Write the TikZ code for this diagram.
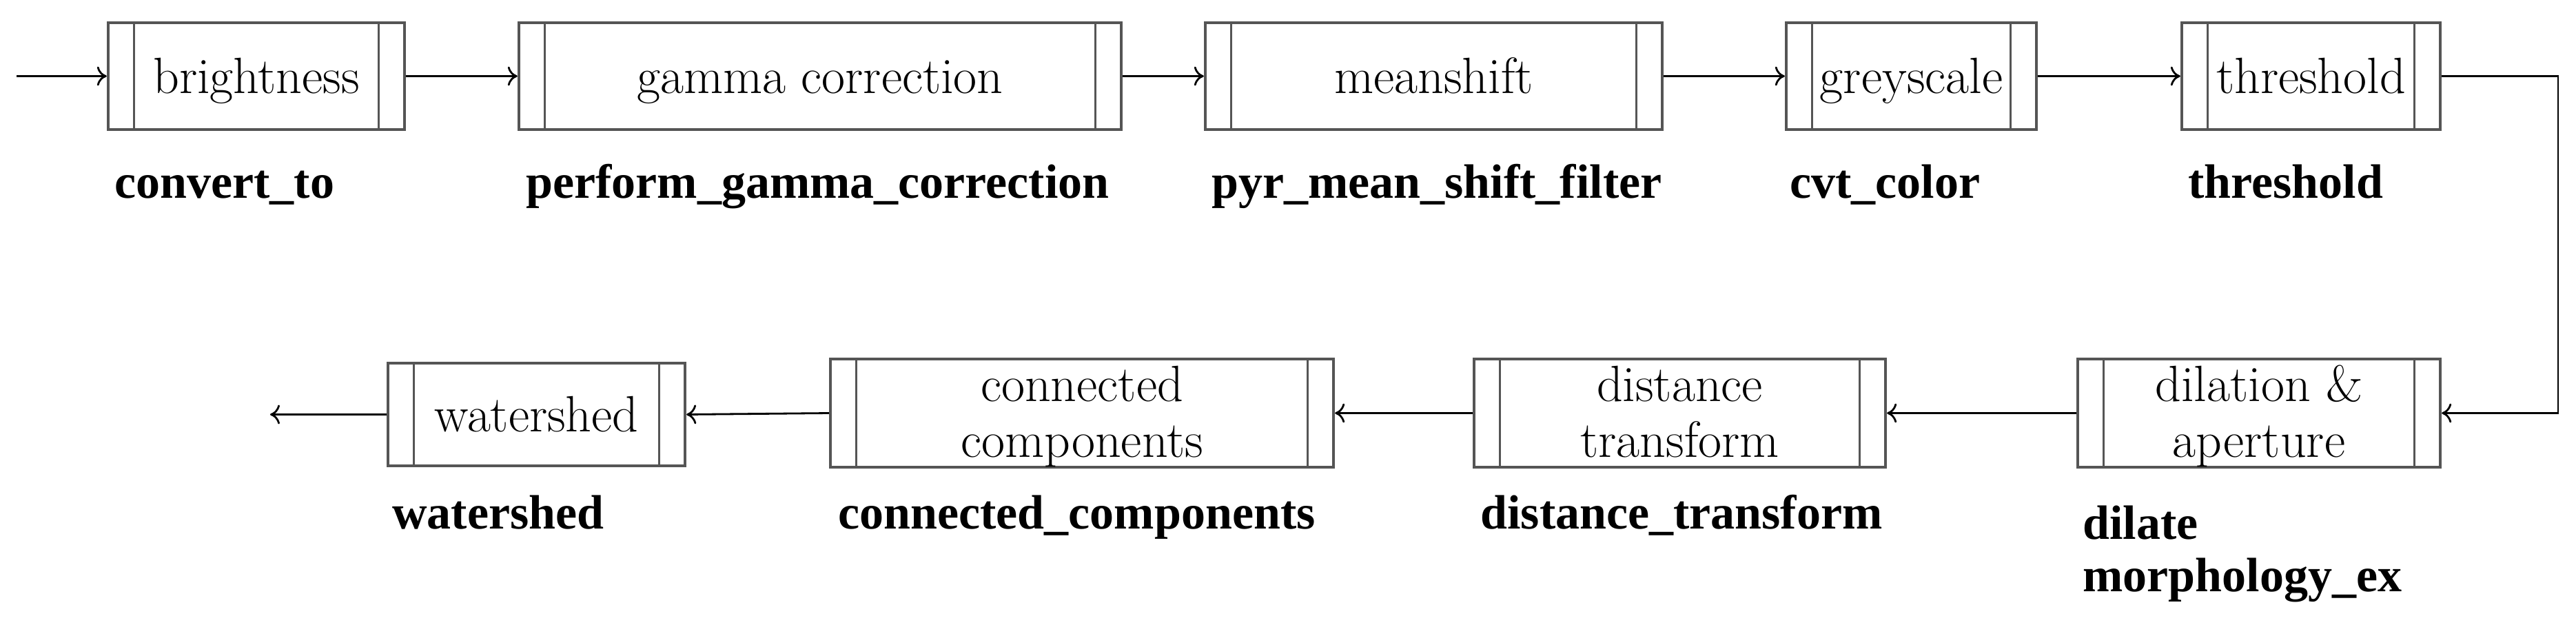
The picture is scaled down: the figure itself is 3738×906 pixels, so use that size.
\documentclass[tikz,border=0pt]{standalone}
\usepackage{fontspec}
\usetikzlibrary{arrows.meta}
\newfontfamily\labfont{Liberation Serif}[BoldFont={Liberation Serif Bold}]
\definecolor{boxgray}{HTML}{555555}
\tikzset{
  stage/.style={draw=boxgray, line width=2.2pt, fill=white, inner sep=0pt,
    minimum height=77.5pt, align=center,
    font=\fontsize{37}{40.5}\selectfont,
    text height=24.5pt, text depth=0pt},
  twoline/.style={text height=63.5pt, text depth=0pt, minimum height=78.5pt},
  innerline/.style={draw=boxgray, line width=1.5pt},
  flow/.style={draw=black, line width=1.4pt, -{To[length=7pt,width=14pt]}},
  fname/.style={anchor=base west, inner sep=0pt, align=left,
    font=\labfont\bfseries\fontsize{35}{38}\selectfont},
}
\begin{document}
\begin{tikzpicture}[x=0.5pt,y=-0.5pt]
\useasboundingbox (0,0) rectangle (3738,906);
% top row
\node[stage, minimum width=215pt] (b1) at (372,110.5) {brightness};
\node[stage, minimum width=437pt] (b2) at (1190,110.5) {gamma correction};
\node[stage, minimum width=331.5pt] (b3) at (2080.5,110.5) {meanshift};
\node[stage, minimum width=181.5pt] (b4) at (2773.5,110.5) {greyscale};
\node[stage, minimum width=187.5pt] (b5) at (3353.5,110.5) {threshold};
% bottom row
\node[stage, twoline, minimum width=263pt] (b6) at (3278,599.5) {dilation \&\\aperture};
\node[stage, twoline, minimum width=298.5pt] (b7) at (2437.5,599.5) {distance\\transform};
\node[stage, twoline, minimum width=365pt] (b8) at (1570,599.5) {connected\\components};
\node[stage, minimum width=215.5pt, minimum height=74.5pt] (b9) at (778.5,601.5) {watershed};
% inner vertical lines
\foreach \n in {b1,b2,b3,b4,b5,b6,b7,b8,b9}{
  \draw[innerline] ([xshift=20pt]\n.north west) -- ([xshift=20pt]\n.south west);
  \draw[innerline] ([xshift=-20pt]\n.north east) -- ([xshift=-20pt]\n.south east);
}
% function labels
\node[fname] (l1) at (166,287) {convert\_to};
\node[fname] (l2) at (763,287) {perform\_gamma\_correction};
\node[fname] (l3) at (1758,287) {pyr\_mean\_shift\_filter};
\node[fname] (l4) at (2597,287) {cvt\_color};
\node[fname] (l5) at (3175,287) {threshold};
\node[fname] (l6a) at (3022,782) {dilate};
\node[fname] (l6b) at (3022,858) {morphology\_ex};
\node[fname] (l7) at (2148,767) {distance\_transform};
\node[fname] (l8) at (1216,767) {connected\_components};
\node[fname] (l9) at (569,767) {watershed};
% connectors
\coordinate (in) at (24,110.5);
\coordinate (turn) at (3712,110.5);
\coordinate (out) at (392,601.5);
\draw[flow] (in) -- (b1.west);
\draw[flow] (b1.east) -- (b2.west);
\draw[flow] (b2.east) -- (b3.west);
\draw[flow] (b3.east) -- (b4.west);
\draw[flow] (b4.east) -- (b5.west);
\draw[flow] (b5.east) -- (turn) |- (b6.east);
\draw[flow] (b6.west) -- (b7.east);
\draw[flow] (b7.west) -- (b8.east);
\draw[flow] (b8.west) -- (b9.east);
\draw[flow] (b9.west) -- (out);
\end{tikzpicture}
\end{document}
